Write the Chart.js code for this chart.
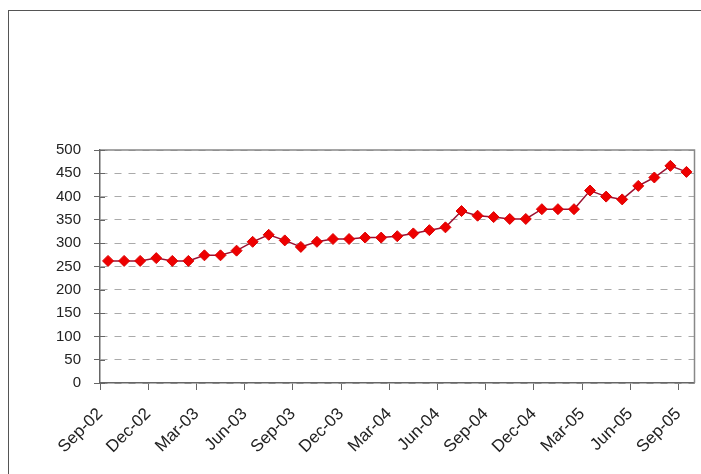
<!DOCTYPE html>
<html>
<head>
<meta charset="utf-8">
<script src="https://cdn.jsdelivr.net/npm/chart.js@4"></script>
<style>
  html, body { margin: 0; padding: 0; background: #fff; overflow: hidden; }
  #wrap { position: relative; width: 701px; height: 474px; }
  #frame { position: absolute; left: 8px; top: 10px; width: 720px; height: 500px; border: 1.5px solid #555; box-sizing: border-box; }
  canvas { position: absolute; left: 0; top: 0; }
</style>
</head>
<body>
<div id="wrap">
  <div id="frame"></div>
  <canvas id="myChart" width="701" height="474"></canvas>
</div>
<script>
// monthly values, Sep-02 .. Sep-05
var months = ["Sep-02","Oct-02","Nov-02","Dec-02","Jan-03","Feb-03","Mar-03","Apr-03","May-03","Jun-03","Jul-03","Aug-03",
              "Sep-03","Oct-03","Nov-03","Dec-03","Jan-04","Feb-04","Mar-04","Apr-04","May-04","Jun-04","Jul-04","Aug-04",
              "Sep-04","Oct-04","Nov-04","Dec-04","Jan-05","Feb-05","Mar-05","Apr-05","May-05","Jun-05","Jul-05","Aug-05","Sep-05"];
var values = [262,262,262,268,262,262,274,274,284,303,318,306,
              292,303,309,309,312,312,315,321,328,334,369,359,
              356,352,352,373,373,373,413,400,394,423,441,466,453];
var tickLabels = ["Sep-02","Dec-02","Mar-03","Jun-03","Sep-03","Dec-03","Mar-04","Jun-04","Sep-04","Dec-04","Mar-05","Jun-05","Sep-05"];

var points = values.map(function (v, i) { return { x: i, y: v }; });

// plot-area border (top/right) and the inner half of the y tick marks
var frameArea = {
    id: 'frameArea',
    afterDraw: function (chart) {
        var a = chart.chartArea, ctx = chart.ctx, y = chart.scales.y;
        ctx.save();
        ctx.strokeStyle = '#888';
        ctx.lineWidth = 1.5;
        ctx.beginPath();
        ctx.moveTo(a.left, a.top);
        ctx.lineTo(a.right, a.top);
        ctx.lineTo(a.right, a.bottom);
        ctx.stroke();
        ctx.strokeStyle = '#666';
        ctx.lineWidth = 1;
        ctx.beginPath();
        y.ticks.forEach(function (t) {
            var py = Math.round(y.getPixelForValue(t.value)) + 0.5;
            ctx.moveTo(a.left, py);
            ctx.lineTo(a.left + 5, py);
        });
        ctx.stroke();
        ctx.restore();
    }
};

new Chart(document.getElementById("myChart"), {
    type: 'line',
    data: {
        datasets: [{
            data: points,
            borderColor: '#9b1030',
            borderWidth: 1.5,
            pointStyle: 'rectRot',
            pointRadius: 5.5,
            pointBackgroundColor: '#ee0000',
            pointBorderColor: '#dd0000',
            pointBorderWidth: 1,
            tension: 0
        }]
    },
    options: {
        responsive: false,
        maintainAspectRatio: false,
        animation: false,
        layout: { padding: { top: 150, right: 6, left: 0, bottom: 0 } },
        plugins: { legend: { display: false }, tooltip: { enabled: false } },
        scales: {
            x: {
                type: 'linear',
                min: -0.5,
                max: 36.5,
                afterFit: function (s) {
                    s.height = 91;
                    s.paddingLeft = 0;
                    s.paddingRight = 0;
                },
                afterBuildTicks: function (s) {
                    s.ticks = tickLabels.map(function (t, k) { return { value: -0.5 + 3 * k }; });
                },
                grid: { drawOnChartArea: false, drawTicks: true, tickLength: 7, color: '#666' },
                border: { color: '#666', width: 1.5 },
                ticks: {
                    autoSkip: false,
                    maxRotation: 45,
                    minRotation: 45,
                    padding: 14,
                    color: '#222',
                    font: { family: 'Liberation Sans, Arial', size: 17 },
                    callback: function (v, k) { return tickLabels[k]; }
                }
            },
            y: {
                min: 0,
                max: 500,
                afterFit: function (s) { s.width = 100; },
                grid: {
                    color: '#aaa',
                    tickLength: 6,
                    tickColor: '#666',
                    tickBorderDash: []
                },
                border: { color: '#666', width: 1.5, dash: [7, 7] },
                ticks: {
                    stepSize: 50,
                    padding: 13,
                    color: '#222',
                    font: { family: 'Liberation Sans, Arial', size: 15 }
                }
            }
        }
    },
    plugins: [frameArea]
});
</script>
</body>
</html>
